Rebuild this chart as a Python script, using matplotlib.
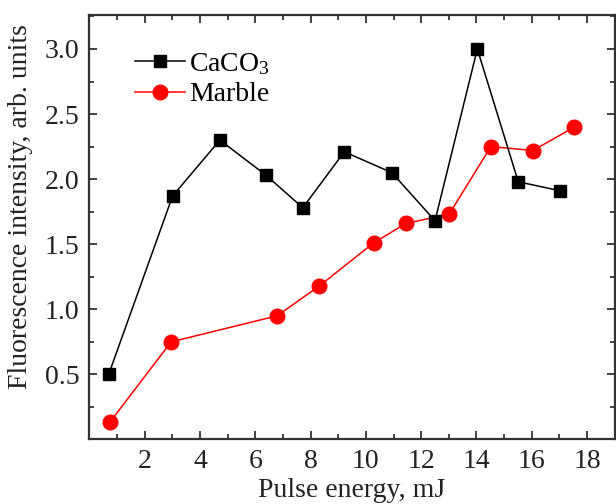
import numpy as np
import matplotlib
matplotlib.use('Agg')
import matplotlib.pyplot as plt
from matplotlib.ticker import MultipleLocator

plt.rcParams['font.family'] = ['Liberation Serif', 'DejaVu Serif']
plt.rcParams['mathtext.fontset'] = 'custom'
plt.rcParams['mathtext.rm'] = 'Liberation Serif'
plt.rcParams['mathtext.default'] = 'rm'

# data
caco3_x = [0.70, 3.01, 4.72, 6.39, 7.72, 9.22, 10.94, 12.50, 14.03, 15.51, 17.03]
caco3_y = [0.50, 1.87, 2.30, 2.03, 1.78, 2.21, 2.05, 1.68, 3.00, 1.98, 1.91]
marble_x = [0.75, 2.96, 6.79, 8.32, 10.28, 11.45, 13.01, 14.52, 16.04, 17.54]
marble_y = [0.135, 0.75, 0.95, 1.18, 1.51, 1.66, 1.73, 2.25, 2.22, 2.40]

fig = plt.figure(figsize=(6.16, 5.04), dpi=100)
ax = fig.add_axes([0.145, 0.128, 0.853, 0.842])

ax.plot(caco3_x, caco3_y, color='black', lw=1.1, marker='s', ms=9,
        label='CaCO$_3$', zorder=3)
ax.plot(marble_x, marble_y, color='#ff0000', lw=1.1, marker='o', ms=10.5,
        label='Marble', zorder=2)

ax.set_xlim(0, 19)
ax.set_ylim(0, 3.26)
ax.xaxis.set_minor_locator(MultipleLocator(1))
ax.yaxis.set_minor_locator(MultipleLocator(0.25))
ax.set_xticks(np.arange(2, 19, 2))
ax.set_yticks(np.arange(0.5, 3.01, 0.5))
ax.yaxis.set_major_formatter(matplotlib.ticker.FormatStrFormatter('%.1f'))

ax.tick_params(which='both', direction='in', top=True, right=True, labelsize=20,
               colors='#222222', width=1.2)
ax.tick_params(which='major', length=6, pad=7)
ax.tick_params(which='minor', length=3.5)
for s in ax.spines.values():
    s.set_linewidth(1.6)
    s.set_color('#333333')

ax.set_xlabel('Pulse energy, mJ', fontsize=20, labelpad=3, color='#222222')
ax.set_ylabel('Fluorescence intensity, arb. units', fontsize=20, color='#222222')
ax.yaxis.set_label_coords(-0.107, 0.548)

ax.legend(loc='upper left', frameon=False, fontsize=20, bbox_to_anchor=(0.045, 0.968),
          handlelength=1.8, handletextpad=0.15, labelspacing=0.18, borderpad=0.3)

fig.savefig('out.png', dpi=100)
